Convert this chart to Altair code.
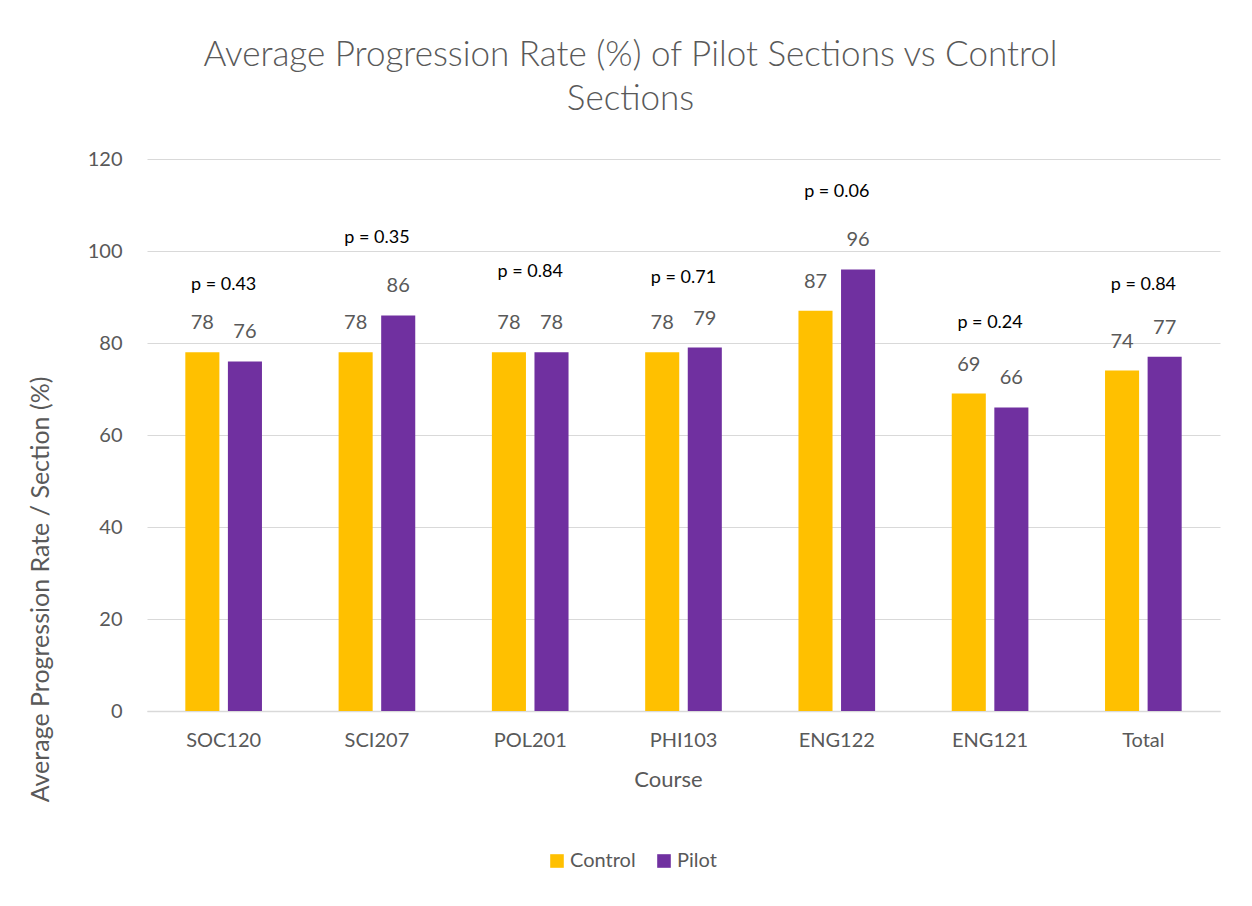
import altair as alt
import pandas as pd

courses = ["SOC120", "SCI207", "POL201", "PHI103", "ENG122", "ENG121", "Total"]
control = [78, 78, 78, 78, 87, 69, 74]
pilot = [76, 86, 78, 79, 96, 66, 77]
p_values = ["0.43", "0.35", "0.84", "0.71", "0.06", "0.24", "0.84"]
p_label_y = [92.6, 102.8, 95.4, 94.1, 112.8, 84.3, 92.6]

series = ["Control", "Pilot"]
colors = ["#FFC000", "#7030A0"]

rows = []
for c, a, b in zip(courses, control, pilot):
    rows.append({"Course": c, "Series": "Control", "Value": a})
    rows.append({"Course": c, "Series": "Pilot", "Value": b})
df = pd.DataFrame(rows)
pdf = pd.DataFrame({"Course": courses, "label": ["p = " + p for p in p_values], "y": p_label_y})

FONT = "Lato"
GRAY = "#595959"

x_enc = alt.X("Course:N", sort=courses,
              scale=alt.Scale(paddingInner=0.5, paddingOuter=0.25),
              axis=alt.Axis(title="Course", labelAngle=0, ticks=False, labelPadding=19,
                            labelFontSize=20, labelColor=GRAY, labelFont=FONT,
                            titleFontSize=22, titleColor=GRAY, titleFont=FONT,
                            titleFontWeight="normal", titleX=521, titleY=58,
                            domainColor="#d9d9d9", domainWidth=1.5))
y_enc = alt.Y("Value:Q", scale=alt.Scale(domain=[0, 120]),
              axis=alt.Axis(title="Average Progression Rate / Section (%)", values=[0, 20, 40, 60, 80, 100, 120],
                            ticks=False, domain=False, labelPadding=25,
                            labelFontSize=20, labelColor=GRAY, labelFont=FONT,
                            titleFontSize=25, titleColor=GRAY, titleFont=FONT,
                            titleFontWeight="normal", titleX=-94, titleY=430,
                            gridColor="#d9d9d9", gridWidth=1))
xoff = alt.XOffset("Series:N", sort=series, scale=alt.Scale(paddingInner=0.2, paddingOuter=0))

bars = alt.Chart(df).mark_bar().encode(
    x=x_enc, y=y_enc, xOffset=xoff,
    color=alt.Color("Series:N", sort=series, scale=alt.Scale(domain=series, range=colors),
                    legend=alt.Legend(title=None, orient="none", legendX=400, legendY=692,
                                      direction="horizontal", symbolType="square", symbolSize=185,
                                      symbolStrokeWidth=0, labelFontSize=20, labelColor=GRAY,
                                      labelFont=FONT, columnPadding=18, labelOffset=3)),
)

vals = alt.Chart(df).mark_text(fontSize=20, color=GRAY, font=FONT, baseline="middle", dy=-29).encode(
    x=alt.X("Course:N", sort=courses), y="Value:Q", xOffset=xoff, text="Value:Q"
)

ptext = alt.Chart(pdf).mark_text(fontSize=18, color="#000000", font=FONT, baseline="middle").encode(
    x=alt.X("Course:N", sort=courses), y=alt.Y("y:Q"), text="label:N"
)

chart = alt.layer(bars, vals, ptext).properties(
    width=1073, height=552,
    background="white",
    autosize=alt.AutoSizeParams(type="none"),
    padding={"left": 139, "top": 151, "right": 24, "bottom": 187},
    title=alt.TitleParams(text=["Average Progression Rate (%) of Pilot Sections vs Control", "Sections"],
                          fontSize=35, font=FONT, color=GRAY, fontWeight=300,
                          anchor="middle", dx=-53, offset=32, lineHeight=44),
).configure_view(strokeWidth=0, stroke="transparent")

chart.save("out.html", embed_options={"renderer": "svg", "actions": False})
